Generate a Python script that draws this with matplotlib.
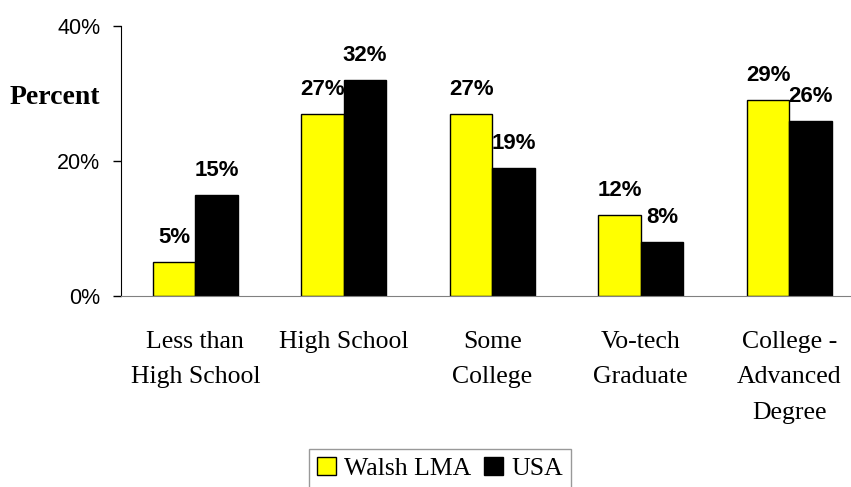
import matplotlib
matplotlib.use("Agg")
import matplotlib.pyplot as plt
import numpy as np
from matplotlib.patches import Patch

categories = ["Less than\nHigh School", "High School", "Some\nCollege",
              "Vo-tech\nGraduate", "College -\nAdvanced\nDegree"]
walsh = [5, 27, 27, 12, 29]
usa = [15, 32, 19, 8, 26]
series_names = ["Walsh LMA", "USA"]
yticks = [0, 20, 40]

W, H = 851, 487
fig = plt.figure(figsize=(W / 100, H / 100), dpi=100)
ax = fig.add_axes([121 / W, (H - 296) / H, 742.5 / W, 270 / H])

x = np.arange(len(categories))
bw = 0.285
serif = ["Liberation Serif", "DejaVu Serif"]
sans = ["Liberation Sans", "DejaVu Sans"]

b1 = ax.bar(x - bw / 2, walsh, bw, color="#FFFF00", edgecolor="black", linewidth=1)
b2 = ax.bar(x + bw / 2, usa, bw, color="black", edgecolor="black", linewidth=1)

for bars, vals in ((b1, walsh), (b2, usa)):
    for r, v in zip(bars, vals):
        ax.annotate(f"{v}%", (r.get_x() + r.get_width() / 2, v),
                    xytext=(0, 10), textcoords="offset points",
                    ha="center", va="bottom", fontsize=16, fontweight="bold",
                    family=sans)

ax.set_xlim(-0.5, len(categories) - 0.5)
ax.set_ylim(0, 40)
ax.set_yticks(yticks)
ax.set_yticklabels([f"{t}%" for t in yticks], family=sans, fontsize=15.5)
ax.tick_params(axis="y", direction="out", length=6, width=1, pad=9)
ax.set_xticks(x)
ax.set_xticklabels(categories, family=serif, fontsize=18.5, linespacing=1.8, va="top")
ax.tick_params(axis="x", length=0, pad=25)

for s in ("top", "right"):
    ax.spines[s].set_visible(False)
ax.spines["left"].set_color("black")
ax.spines["bottom"].set_color("#808080")

fig.text(10 / W, (H - 97) / H, "Percent", family=serif, fontsize=20,
         fontweight="bold", ha="left", va="center")

handles = [Patch(facecolor="#FFFF00", edgecolor="black", linewidth=1),
           Patch(facecolor="black", edgecolor="black", linewidth=1)]
leg = fig.legend(handles, series_names, loc="upper center",
                 bbox_to_anchor=(440 / W, (H - 436) / H), ncol=2,
                 prop={"family": serif, "size": 18.5}, frameon=True,
                 fancybox=False, handlelength=0.75, handleheight=0.75,
                 handletextpad=0.3, columnspacing=0.5, borderpad=0.3)
leg.get_frame().set_edgecolor("#808080")
leg.get_frame().set_linewidth(1)

fig.savefig("out.png", dpi=100)
